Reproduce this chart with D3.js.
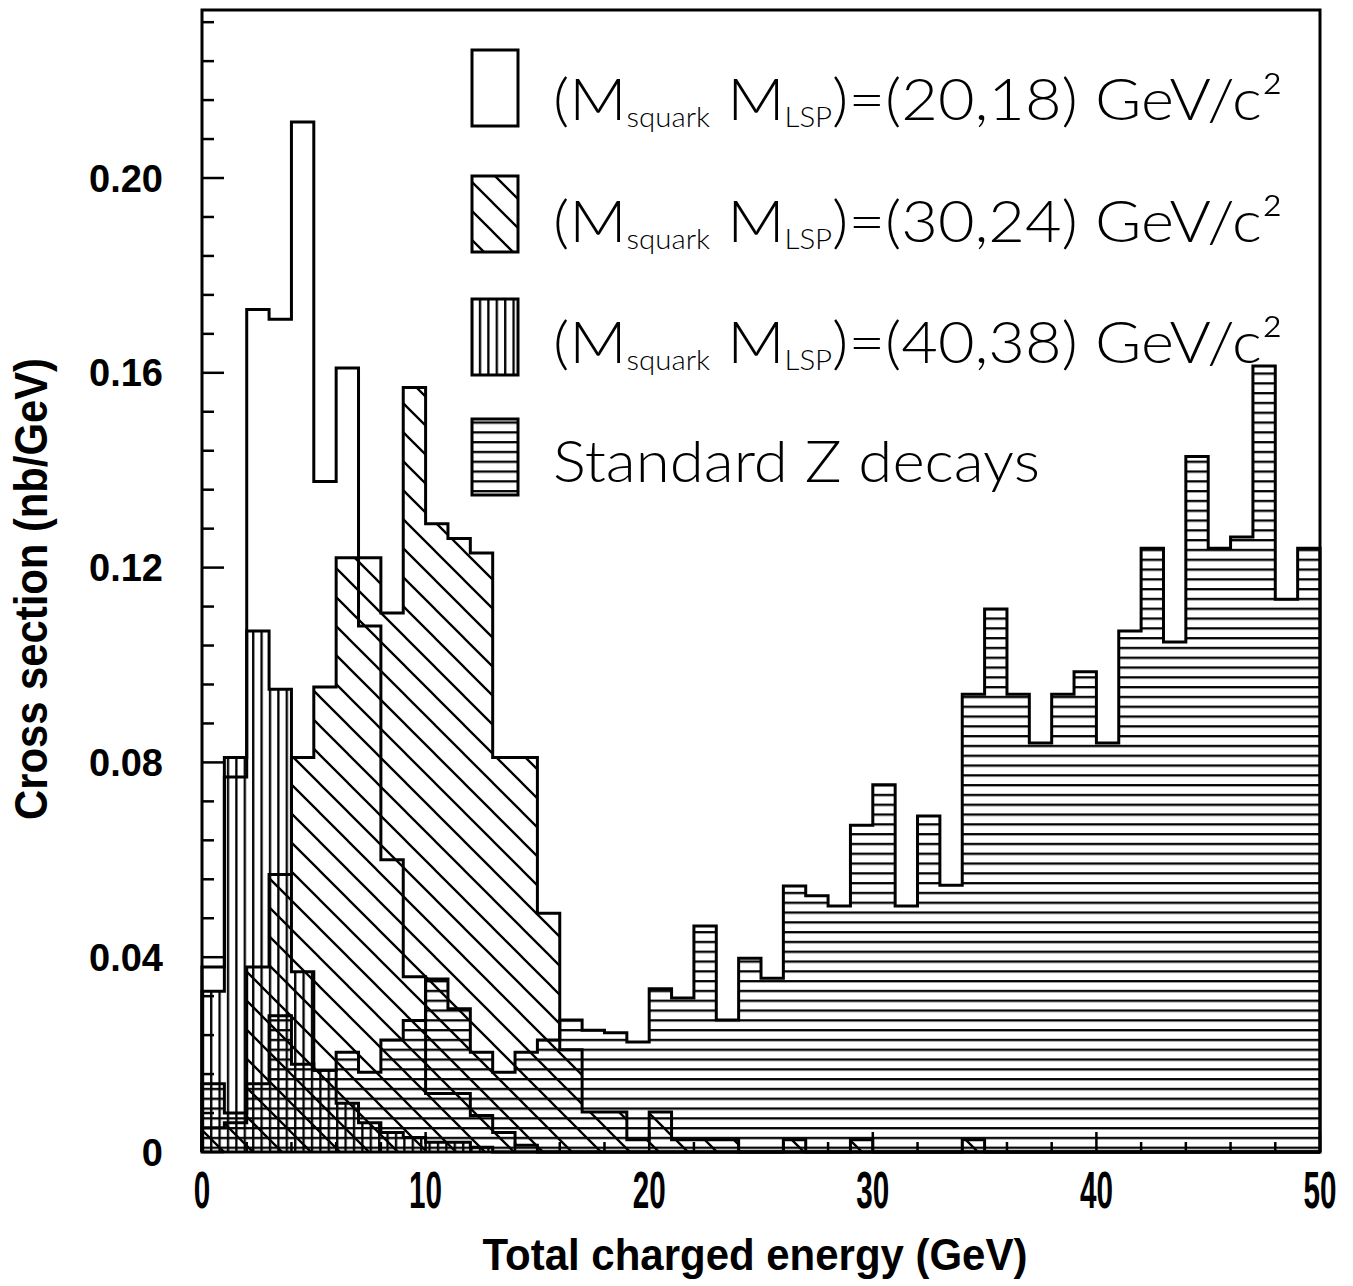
<!DOCTYPE html>
<html>
<head>
<meta charset="utf-8">
<script src="https://cdn.jsdelivr.net/npm/d3@7"></script>
<style>
  html, body { margin: 0; padding: 0; background: #fff; }
  svg { display: block; }
</style>
</head>
<body>
<svg id="chart" width="1353" height="1286"></svg>
<script>
// 1 GeV bins from 0 to 50 GeV
const binEdges = d3.range(0, 51);

// Cross sections per bin (nb/GeV)
const squark20_18 = [0.038, 0.077, 0.173, 0.171, 0.2115, 0.1377, 0.161, 0.108, 0.060, 0.036,
                     0.012, 0.012, 0.0075, 0.004, 0.0014, 0, 0, 0, 0, 0,
                     0, 0, 0, 0, 0, 0, 0, 0, 0, 0,
                     0, 0, 0, 0, 0, 0, 0, 0, 0, 0,
                     0, 0, 0, 0, 0, 0, 0, 0, 0, 0];
const squark30_24 = [0.005, 0.006, 0.038, 0.057, 0.081, 0.0955, 0.122, 0.122, 0.1107, 0.157,
                     0.129, 0.126, 0.123, 0.081, 0.081, 0.049, 0.021, 0.0082, 0.0082, 0.0025,
                     0.0082, 0.0025, 0.0025, 0.0025, 0, 0, 0.0025, 0, 0, 0.0025,
                     0, 0, 0, 0, 0.0025, 0, 0, 0, 0, 0,
                     0, 0, 0, 0, 0, 0, 0, 0, 0, 0];
const squark40_38 = [0.033, 0.081, 0.107, 0.095, 0.037, 0.0168, 0.010, 0.006, 0.004, 0.003,
                     0.002, 0.002, 0.001, 0, 0, 0, 0, 0, 0, 0,
                     0, 0, 0, 0, 0, 0, 0, 0, 0, 0,
                     0, 0, 0, 0, 0, 0, 0, 0, 0, 0,
                     0, 0, 0, 0, 0, 0, 0, 0, 0, 0];
const zDecays     = [0.014, 0.008, 0.014, 0.028, 0.018, 0.0168, 0.0205, 0.0164, 0.023, 0.027,
                     0.0355, 0.0294, 0.0205, 0.0164, 0.0205, 0.023, 0.0271, 0.025, 0.0245, 0.0226,
                     0.0335, 0.0316, 0.0464, 0.0271, 0.0398, 0.0357, 0.0546, 0.0526, 0.0505, 0.0671,
                     0.0754, 0.0505, 0.069, 0.0548, 0.094, 0.1115, 0.094, 0.084, 0.094, 0.0986,
                     0.084, 0.107, 0.124, 0.1047, 0.1428, 0.124, 0.1263, 0.1614, 0.1135, 0.124];

// Axis ticks and labels
const yMajorTicks = [0, 0.04, 0.08, 0.12, 0.16, 0.20];
const yTickLabels = ["0", "0.04", "0.08", "0.12", "0.16", "0.20"];
const yMinorTicks = [0.008, 0.016, 0.024, 0.032, 0.048, 0.056, 0.064, 0.072, 0.088, 0.096, 0.104, 0.112,
                     0.128, 0.136, 0.144, 0.152, 0.168, 0.176, 0.184, 0.192, 0.208, 0.216, 0.224, 0.232];
const xMajorTicks = [0, 10, 20, 30, 40, 50];
const xTickLabels = ["0", "10", "20", "30", "40", "50"];
const xMinorTicks = [2, 4, 6, 8, 12, 14, 16, 18, 22, 24, 26, 28, 32, 34, 36, 38, 42, 44, 46, 48];

// Legend entries
const legendMasses = ["(20,18)", "(30,24)", "(40,38)"];
const legendStandard = "Standard Z decays";

const svg = d3.select("#chart");
const x = d3.scaleLinear().domain([0, 50]).range([202, 1320]);
const y = d3.scaleLinear().domain([0, 0.2345]).range([1152, 10]);

// Hatch patterns, anchored to the page so they run continuously across bins
const defs = svg.append("defs");
function hatch(id, w, h, d) {
  defs.append("pattern")
    .attr("id", id)
    .attr("patternUnits", "userSpaceOnUse")
    .attr("width", w).attr("height", h)
    .append("path")
    .attr("d", d)
    .attr("stroke", "#000")
    .attr("stroke-width", 2.3)
    .attr("fill", "none");
}
hatch("diag", 29, 29, "M-3,-3L32,32M26,-3L32,3M-3,26L3,32");
hatch("vert", 8.4, 10, "M1.2,-1V11");
hatch("horz", 10, 9.8, "M-1,1.2H11");

// Step outline of a histogram
function stepPoints(values) {
  const pts = [[binEdges[0], 0]];
  values.forEach((v, i) => {
    pts.push([binEdges[i], v]);
    pts.push([binEdges[i + 1], v]);
  });
  pts.push([binEdges[binEdges.length - 1], 0]);
  return pts;
}
const line = d3.line().x(d => x(d[0])).y(d => y(d[1]));

const series = [
  { values: zDecays, fill: "url(#horz)" },
  { values: squark40_38, fill: "url(#vert)" },
  { values: squark30_24, fill: "url(#diag)" },
  { values: squark20_18, fill: "none" }
];

const plot = svg.append("g");
plot.selectAll("path.fill")
  .data(series)
  .join("path")
  .attr("class", "fill")
  .attr("d", d => line(stepPoints(d.values)) + "Z")
  .attr("fill", d => d.fill)
  .attr("stroke", "none");

plot.selectAll("path.outline")
  .data(series)
  .join("path")
  .attr("class", "outline")
  .attr("d", d => line(stepPoints(d.values)))
  .attr("fill", "none")
  .attr("stroke", "#000")
  .attr("stroke-width", 3)
  .attr("stroke-linejoin", "miter");

// Frame
svg.append("rect")
  .attr("x", x(0)).attr("y", y(0.2345))
  .attr("width", x(50) - x(0)).attr("height", y(0) - y(0.2345))
  .attr("fill", "none").attr("stroke", "#000").attr("stroke-width", 3);

// Ticks, drawn inward
const ticks = svg.append("g").attr("stroke", "#000").attr("stroke-width", 2.5);
ticks.selectAll("line.ymaj").data(yMajorTicks).join("line")
  .attr("x1", x(0)).attr("x2", x(0) + 22)
  .attr("y1", d => y(d)).attr("y2", d => y(d));
ticks.selectAll("line.ymin").data(yMinorTicks).join("line")
  .attr("class", "ymin")
  .attr("x1", x(0)).attr("x2", x(0) + 12)
  .attr("y1", d => y(d)).attr("y2", d => y(d));
ticks.selectAll("line.xmaj").data(xMajorTicks).join("line")
  .attr("class", "xmaj")
  .attr("x1", d => x(d)).attr("x2", d => x(d))
  .attr("y1", y(0)).attr("y2", y(0) - 20);
ticks.selectAll("line.xmin").data(xMinorTicks).join("line")
  .attr("class", "xmin")
  .attr("x1", d => x(d)).attr("x2", d => x(d))
  .attr("y1", y(0)).attr("y2", y(0) - 10);

const labelFont = "'Liberation Sans', Arial, sans-serif";

// Y tick labels
svg.append("g").selectAll("text").data(yMajorTicks).join("text")
  .attr("x", 163)
  .attr("y", d => y(d))
  .attr("dy", "0.36em")
  .attr("text-anchor", "end")
  .attr("font-family", labelFont)
  .attr("font-weight", "bold")
  .attr("font-size", 38)
  .text((d, i) => yTickLabels[i]);

// X tick labels (condensed)
svg.append("g").selectAll("g").data(xMajorTicks).join("g")
  .attr("transform", d => `translate(${x(d)},1208)`)
  .append("text")
  .attr("text-anchor", "middle")
  .attr("font-family", labelFont)
  .attr("font-weight", "bold")
  .attr("font-size", 52)
  .attr("transform", "scale(0.57,1)")
  .text((d, i) => xTickLabels[i]);

// Scale a text element horizontally so that it spans the given width
function fitWidth(sel, target) {
  const w = sel.node().getComputedTextLength();
  if (w > 0) sel.attr("transform", `scale(${target / w},1)`);
}

// Axis titles
const yTitle = svg.append("g").attr("transform", "translate(47,589) rotate(-90)")
  .append("text")
  .attr("text-anchor", "middle")
  .attr("font-family", labelFont)
  .attr("font-weight", "bold")
  .attr("font-size", 47)
  .text("Cross section (nb/GeV)");
fitWidth(yTitle, 462);

const xTitle = svg.append("g").attr("transform", "translate(755,1270)")
  .append("text")
  .attr("text-anchor", "middle")
  .attr("font-family", labelFont)
  .attr("font-weight", "bold")
  .attr("font-size", 45)
  .text("Total charged energy (GeV)");
fitWidth(xTitle, 545);

// Legend
const legendFont = "Lato, 'Open Sans', 'DejaVu Sans', sans-serif";
const boxTops = [50, 176, 299, 419];
const boxFills = ["none", "url(#diag)", "url(#vert)", "url(#horz)"];
const baselines = [120, 242, 363, 482];
const legend = svg.append("g");

legend.selectAll("rect").data(boxTops).join("rect")
  .attr("x", 472).attr("y", d => d)
  .attr("width", 46).attr("height", 76)
  .attr("fill", (d, i) => boxFills[i])
  .attr("stroke", "#000").attr("stroke-width", 3);

legendMasses.forEach((m, i) => {
  const g = legend.append("g").attr("transform", `translate(553,${baselines[i]})`);
  const t = g.append("text")
    .attr("font-family", legendFont)
    .attr("font-weight", 300)
    .attr("font-size", 58);
  t.append("tspan").text("(M");
  t.append("tspan").attr("font-size", 27).attr("dy", 7).text("squark");
  t.append("tspan").attr("dy", -7).text(" M");
  t.append("tspan").attr("font-size", 27).attr("dy", 7).text("LSP");
  t.append("tspan").attr("dy", -7).text(")=" + m + " GeV/c²");
  fitWidth(t, 730);
});

const std = legend.append("g").attr("transform", `translate(553,${baselines[3]})`)
  .append("text")
  .attr("font-family", legendFont)
  .attr("font-weight", 300)
  .attr("font-size", 58)
  .text(legendStandard);
fitWidth(std, 487);
</script>
</body>
</html>
